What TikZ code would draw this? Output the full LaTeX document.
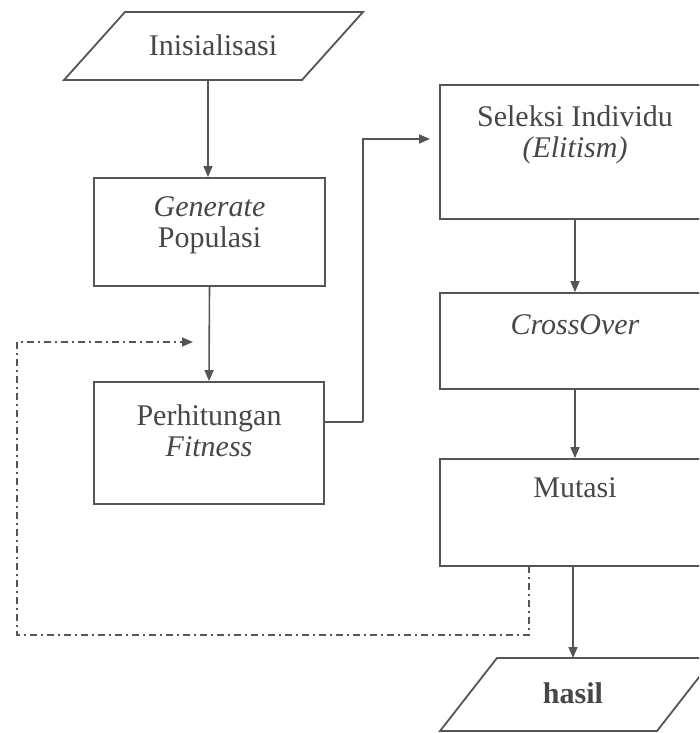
\documentclass[tikz,border=0pt]{standalone}
\usepackage{fontspec}
\setmainfont{Liberation Serif}
\usetikzlibrary{arrows.meta,calc}
\definecolor{ink}{HTML}{555555}
\definecolor{txt}{HTML}{474747}
\tikzset{
  box/.style={draw=ink,line width=1.8pt,rectangle,inner sep=0pt},
  lbl/.style={text=txt,align=center,inner sep=0pt,font=\fontsize{30}{31}\selectfont},
  flow/.style={draw=ink,line width=1.6pt,-{Triangle[length=11pt,width=9pt]}},
  loop/.style={draw=ink,line width=1.5pt,dash pattern=on 7pt off 4pt on 2pt off 4pt,-{Triangle[length=11pt,width=9pt]}},
  io/.style={draw=ink,line width=1.8pt,line join=miter}
}
\begin{document}
\begin{tikzpicture}[x=1pt,y=-1pt]
\useasboundingbox (0,0) rectangle (699,733);
\clip (0,0) rectangle (699,733);

% start parallelogram
\draw[io] (125,12) -- (363,12) -- (302,80) -- (64,80) -- cycle;
\node[lbl] (init) at (213,45) {Inisialisasi};
\coordinate (initB) at (208,80);

% left column
\node[box,minimum width=231pt,minimum height=108pt] (gen) at (209.5,232) {};
\node[lbl] (genT) at (209.5,225) {\textit{Generate}\\Populasi};
\node[box,minimum width=230pt,minimum height=122pt] (fit) at (209,443) {};
\node[lbl] (fitT) at (209,431) {Perhitungan\\\textit{Fitness}};

% right column (boxes run past the right border)
\node[box,minimum width=270pt,minimum height=134pt] (sel) at (575,152) {};
\node[lbl] (selT) at (575,135) {Seleksi Individu\\\textit{(Elitism)}};
\node[box,minimum width=270pt,minimum height=96pt] (cross) at (575,341) {};
\node[lbl] (crossT) at (575,325) {\textit{CrossOver}};
\node[box,minimum width=270pt,minimum height=107pt] (mut) at (575,512.5) {};
\node[lbl] (mutT) at (575,488) {Mutasi};

% output parallelogram
\draw[io] (497,658) -- (714,658) -- (657,731) -- (440,731) -- cycle;
\node[lbl,font=\fontsize{30}{31}\selectfont\bfseries] (out) at (573,693) {hasil};
\coordinate (outT) at (573,658);

% connectors
\draw[flow] (initB) -- (initB |- gen.north);
\draw[flow] (gen.south) -- (fit.north);
\coordinate (fitOut) at (324,422);
\coordinate (selIn) at (430,139);
\draw[flow,-] (fitOut) -- (363,422);
\draw[flow] (363,422) |- (selIn);
\draw[flow] (sel.south) -- (cross.north);
\draw[flow] (cross.south) -- (mut.north);
\draw[flow] (outT |- mut.south) -- (outT);

% repeat loop back to fitness evaluation
\coordinate (loopS) at (529,566);
\coordinate (loopE) at (193,342);
\draw[loop] (loopS) -- (529,635) -- (17,635) -- (17,342) -- (loopE);
\end{tikzpicture}
\end{document}
